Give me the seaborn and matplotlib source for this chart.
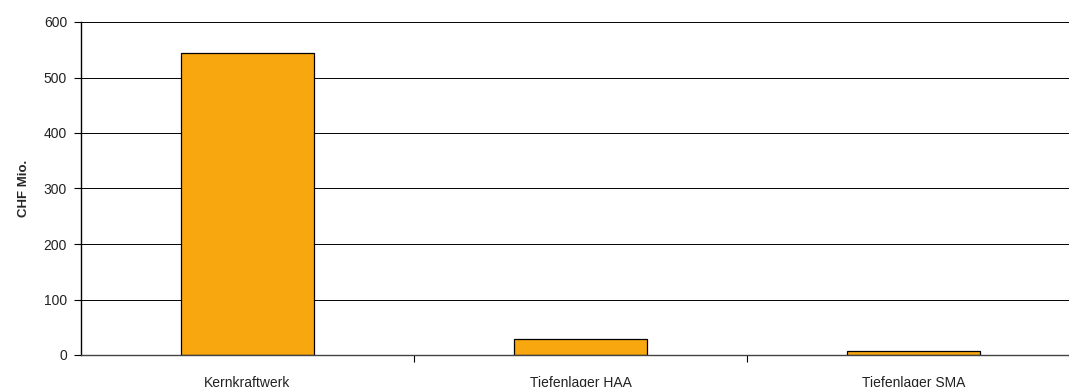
import matplotlib
matplotlib.use("Agg")
import matplotlib.pyplot as plt
import seaborn as sns
import pandas as pd

categories = ["Kernkraftwerk", "Tiefenlager HAA", "Tiefenlager SMA"]
values = [544, 29, 8]
y_ticks = [0, 100, 200, 300, 400, 500, 600]

sns.set_theme(style="white")
plt.rcParams['font.family'] = ['Liberation Sans', 'DejaVu Sans']

df = pd.DataFrame({"cat": categories, "val": values})

fig = plt.figure(figsize=(10.69, 3.87), dpi=100)
ax = fig.add_axes([81/1069, 32/387, 999/1069, 333/387])
sns.barplot(data=df, x="cat", y="val", ax=ax, color="#F9A70F", width=0.4,
            edgecolor="black", linewidth=0.9, saturation=1)
ax.set_xlim(-0.5, 2.5)
ax.set_ylim(0, 600)
ax.set_yticks(y_ticks)
ax.set_yticklabels([str(t) for t in y_ticks], fontsize=10, color="#222222")
ax.yaxis.grid(True, color="black", linewidth=0.7)
ax.set_axisbelow(True)
ax.set_xlabel("")
ax.set_ylabel("CHF Mio.", fontsize=9.5, fontweight="bold", labelpad=10)
ax.tick_params(axis="y", direction="out", length=5, width=0.8, color="black", pad=5, left=True)
# x: labels at centers, ticks at boundaries
ax.set_xticks([0, 1, 2])
ax.set_xticklabels(categories, fontsize=10, color="#222222")
ax.tick_params(axis="x", length=0, pad=15)
ax.set_xticks([0.5, 1.5], minor=True)
ax.tick_params(axis="x", which="minor", direction="out", length=5, width=0.8, color="black", bottom=True)
for s in ["top", "right"]:
    ax.spines[s].set_visible(False)
ax.spines["left"].set_color("black")
ax.spines["left"].set_linewidth(1.0)
ax.spines["bottom"].set_color("#444444")
ax.spines["bottom"].set_linewidth(1.0)

fig.savefig("out.png", dpi=100)
